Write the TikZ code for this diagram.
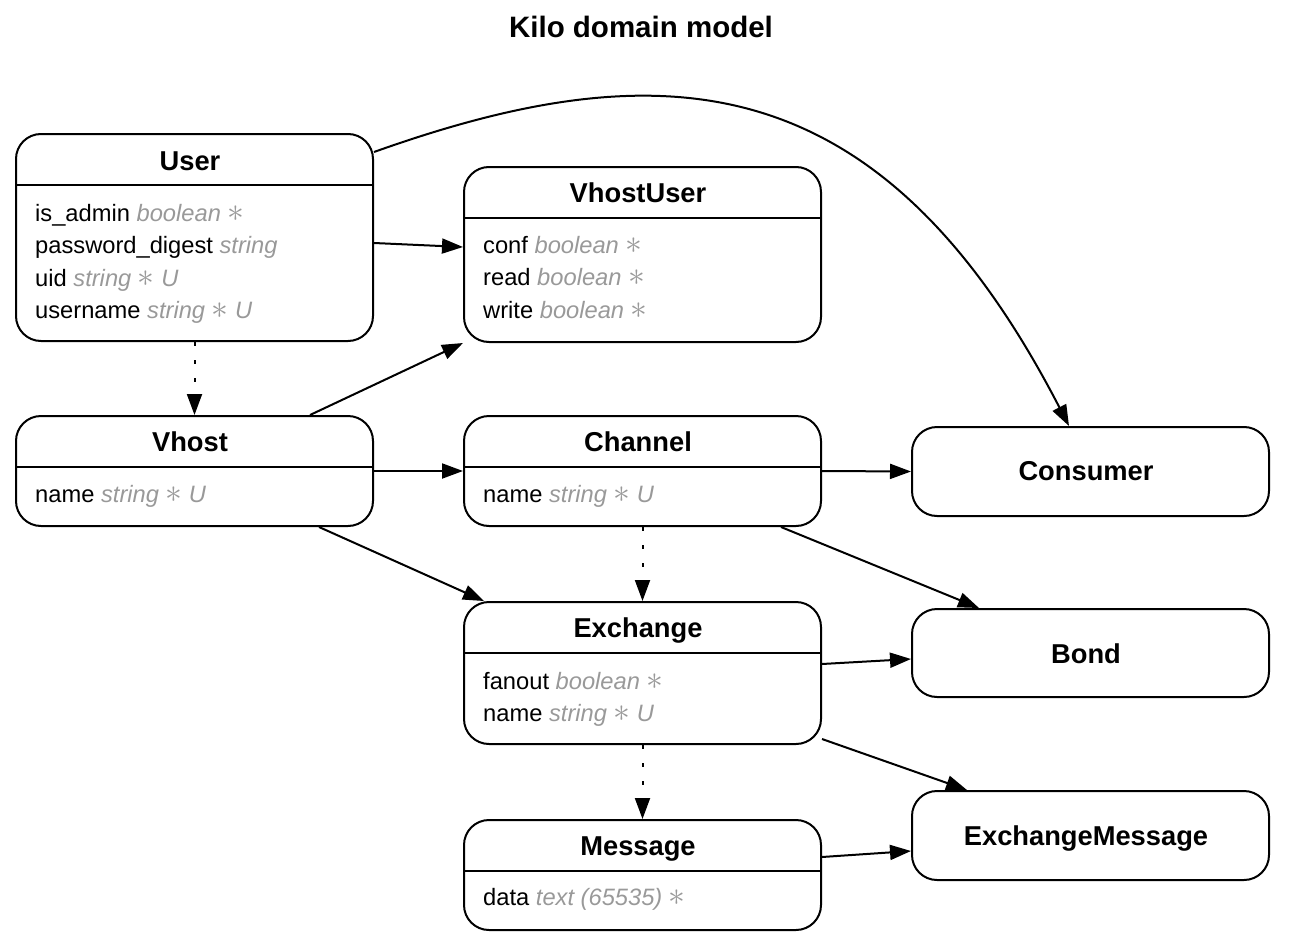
\documentclass[tikz,border=0pt]{standalone}
\usepackage{fontspec}
\setmainfont{Liberation Sans}
\usetikzlibrary{arrows.meta}
\definecolor{typegray}{RGB}{153,153,153}
\newcommand{\typ}[1]{\textcolor{typegray}{\itshape #1}}
\newcommand{\req}{\textcolor{typegray}{\smash{\scalebox{1.35}{$\ast$}}}}
\newcommand{\uq}{\textcolor{typegray}{\itshape U}}

\begin{document}
\begin{tikzpicture}[x=1pt, y=-1pt,
	cls/.style={draw, line width=2pt, rounded corners=25pt, inner sep=0pt},
	head/.style={anchor=base, inner sep=0pt, font=\fontsize{27.3}{30}\selectfont\bfseries},
	attr/.style={anchor=base west, inner sep=0pt, font=\fontsize{23.7}{26}\selectfont},
	link/.style={line width=2pt, -{Triangle[length=21pt,width=15pt]}},
	dep/.style={link, dash pattern=on 4pt off 14pt}]
	\useasboundingbox (0,0) rectangle (1290,950);
	\node[anchor=base, font=\fontsize{29.5}{32}\selectfont\bfseries] (title) at (641,38) {Kilo domain model};
	% class boxes
	\node[cls, minimum width=357pt, minimum height=207pt] (user) at (194.5,237.5) {};
	\node[cls, minimum width=357pt, minimum height=175pt] (vhostuser) at (642.5,254.5) {};
	\node[cls, minimum width=357pt, minimum height=110pt] (vhost) at (194.5,471) {};
	\node[cls, minimum width=357pt, minimum height=110pt] (channel) at (642.5,471) {};
	\node[cls, minimum width=357pt, minimum height=89pt] (consumer) at (1090.5,471.5) {};
	\node[cls, minimum width=357pt, minimum height=142pt] (exchange) at (642.5,673) {};
	\node[cls, minimum width=357pt, minimum height=88pt] (bond) at (1090.5,653) {};
	\node[cls, minimum width=357pt, minimum height=110pt] (message) at (642.5,875) {};
	\node[cls, minimum width=357pt, minimum height=89pt] (exchmsg) at (1090.5,835.5) {};
	% dividers
	\foreach \b in {user, vhostuser, vhost, channel, exchange, message}
		\draw[line width=2pt] ([yshift=-52pt]\b.north west) -- ([yshift=-52pt]\b.north east);
	% User
	\node[head] (user-h) at (190,170) {User};
	\node[attr] (user-a1) at (35,221) {is\_admin \typ{boolean} \req};
	\node[attr] (user-a2) at (35,253.5) {password\_digest \typ{string}};
	\node[attr] (user-a3) at (35,286) {uid \typ{string} \req{} \uq};
	\node[attr] (user-a4) at (35,318) {username \typ{string} \req{} \uq};
	% VhostUser
	\node[head] (vhostuser-h) at (638,202) {VhostUser};
	\node[attr] (vhostuser-a1) at (483,253) {conf \typ{boolean} \req};
	\node[attr] (vhostuser-a2) at (483,285.5) {read \typ{boolean} \req};
	\node[attr] (vhostuser-a3) at (483,318) {write \typ{boolean} \req};
	% Vhost, Channel
	\node[head] (vhost-h) at (190,451) {Vhost};
	\node[attr] (vhost-a1) at (35,502) {name \typ{string} \req{} \uq};
	\node[head] (channel-h) at (638,451) {Channel};
	\node[attr] (channel-a1) at (483,502) {name \typ{string} \req{} \uq};
	% Exchange, Message
	\node[head] (exchange-h) at (638,637) {Exchange};
	\node[attr] (exchange-a1) at (483,689) {fanout \typ{boolean} \req};
	\node[attr] (exchange-a2) at (483,721.5) {name \typ{string} \req{} \uq};
	\node[head] (message-h) at (638,855) {Message};
	\node[attr] (message-a1) at (483,905) {data \typ{text (65535)} \req};
	% plain boxes
	\node[head] (consumer-h) at (1086,480) {Consumer};
	\node[head] (bond-h) at (1086,663) {Bond};
	\node[head] (exchmsg-h) at (1086,845) {ExchangeMessage};
	% connectors
	\draw[link] ([yshift=-19pt]user.north east) .. controls (660,50) and (880,60) .. ([xshift=-21.5pt]consumer.north);
	\draw[link] ([yshift=-110pt]user.north east) -- ([yshift=-81pt]vhostuser.north west);
	\draw[dep] (user.south) -- (vhost.north);
	\draw[link] ([xshift=115.5pt]vhost.north) -- (vhostuser.south west);
	\draw[link] (vhost.east) -- (channel.west);
	\draw[link] ([xshift=-55pt]vhost.south east) -- ([xshift=21pt]exchange.north west);
	\draw[link] (channel.east) -- (consumer.west);
	\draw[link] ([xshift=-41pt]channel.south east) -- ([xshift=68pt]bond.north west);
	\draw[dep] (channel.south) -- (exchange.north);
	\draw[link] ([yshift=-63pt]exchange.north east) -- ([yshift=-51pt]bond.north west);
	\draw[link] ([yshift=6pt]exchange.south east) -- ([xshift=56pt]exchmsg.north west);
	\draw[dep] (exchange.south) -- (message.north);
	\draw[link] ([yshift=-38pt]message.north east) -- ([yshift=-61pt]exchmsg.north west);
\end{tikzpicture}
\end{document}
